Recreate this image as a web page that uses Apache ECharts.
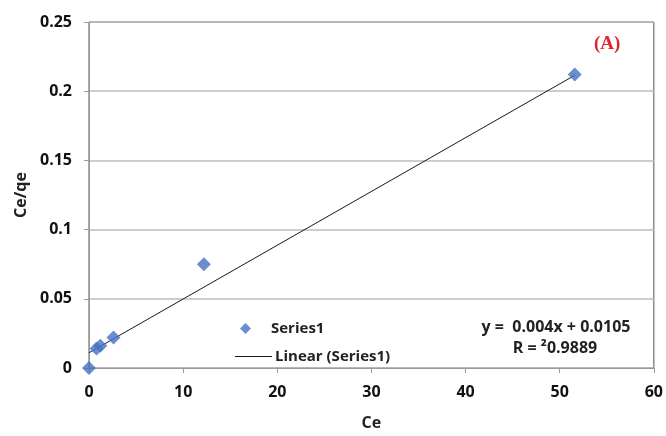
<!DOCTYPE html>
<html>
<head>
<meta charset="utf-8">
<script src="https://cdn.jsdelivr.net/npm/echarts@6/dist/echarts.min.js"></script>
<style>
html,body{margin:0;padding:0;background:#fff;}
#chart{width:666px;height:436px;}
</style>
</head>
<body>
<div id="chart"></div>
<script>
// Data
var ceValues = [0, 0.8, 1.2, 2.6, 12.2, 51.6];
var ceqeValues = [0, 0.014, 0.016, 0.022, 0.075, 0.212];
var trendX = [0, 51.6];
var trendY = [0.011, 0.2115];
var xTicks = [0, 10, 20, 30, 40, 50, 60];
var yTicks = [0, 0.05, 0.1, 0.15, 0.2, 0.25];
var equationLines = ['y =  0.004x + 0.0105', 'R = \u00B20.9889'];
var panelLabel = '(A)';

var font = '"Open Sans", "Noto Sans", sans-serif';
var chart = echarts.init(document.getElementById('chart'), null, {renderer: 'canvas'});

var scatterData = ceValues.map(function (x, i) { return [x, ceqeValues[i]]; });
var trendData = trendX.map(function (x, i) { return [x, trendY[i]]; });

chart.setOption({
  animation: false,
  backgroundColor: '#ffffff',
  grid: {left: 89, right: 10, top: 22, bottom: 61, show: true, borderColor: '#555', borderWidth: 1, backgroundColor: 'transparent'},
  xAxis: {
    type: 'value', min: xTicks[0], max: xTicks[xTicks.length - 1], interval: 10,
    name: 'Ce', nameLocation: 'middle', nameGap: 47,
    nameTextStyle: {fontFamily: font, fontWeight: 'bold', fontSize: 16, color: '#222', verticalAlign: 'top', padding: [0, 0, 0, 0]},
    axisLine: {show: true, lineStyle: {color: '#999', width: 1}},
    axisTick: {show: true, length: 5, lineStyle: {color: '#999'}},
    axisLabel: {margin: 16, fontFamily: font, fontWeight: 'bold', fontSize: 16, color: '#111'},
    splitLine: {show: false}
  },
  yAxis: {
    type: 'value', min: yTicks[0], max: yTicks[yTicks.length - 1], interval: 0.05,
    name: 'Ce/qe', nameLocation: 'middle', nameGap: 60, nameRotate: 90,
    nameTextStyle: {fontFamily: font, fontWeight: 'bold', fontSize: 16, color: '#222'},
    axisLine: {show: true, lineStyle: {color: '#999', width: 1}},
    axisTick: {show: true, length: 5, lineStyle: {color: '#999'}},
    axisLabel: {margin: 17, fontFamily: font, fontWeight: 'bold', fontSize: 16, color: '#111'},
    splitLine: {show: true, lineStyle: {color: '#bdbdbd', width: 1.5}}
  },
  legend: [
    {
      orient: 'vertical', left: 235, top: 316,
      itemWidth: 11, itemHeight: 11,
      data: [{name: 'Series1', icon: 'diamond'}],
      textStyle: {fontFamily: font, fontWeight: 'bold', fontSize: 15, color: '#222', padding: [0, 0, 0, 15]}
    },
    {
      orient: 'vertical', left: 230, top: 344,
      itemWidth: 37, itemHeight: 1,
      data: [{name: 'Linear (Series1)', icon: 'rect', itemStyle: {color: '#1a1a1a'}}],
      textStyle: {fontFamily: font, fontWeight: 'bold', fontSize: 15, color: '#222', padding: [0, 0, 0, -2]}
    }
  ],
  graphic: [
    {type: 'text', x: 556, y: 327, style: {text: equationLines[0], align: 'center', verticalAlign: 'middle', fontFamily: font, fontWeight: 'bold', fontSize: 16, fill: '#222'}},
    {type: 'text', x: 555, y: 348, style: {text: equationLines[1], align: 'center', verticalAlign: 'middle', fontFamily: font, fontWeight: 'bold', fontSize: 16, fill: '#222'}},
    {type: 'text', left: 594, top: 35, style: {text: panelLabel, fontFamily: '"Liberation Serif", "DejaVu Serif", serif', fontWeight: 'bold', fontSize: 19, fill: '#e0262b'}}
  ],
  series: [
    {
      name: 'Linear (Series1)', type: 'line', data: trendData,
      symbol: 'none', showSymbol: false,
      lineStyle: {color: '#1a1a1a', width: 1},
      itemStyle: {color: '#1a1a1a'},
      z: 2
    },
    {
      name: 'Series1', type: 'scatter', data: scatterData,
      symbol: 'diamond', symbolSize: 14,
      itemStyle: {color: '#4472C4'},
      z: 3
    }
  ]
});
</script>
</body>
</html>
